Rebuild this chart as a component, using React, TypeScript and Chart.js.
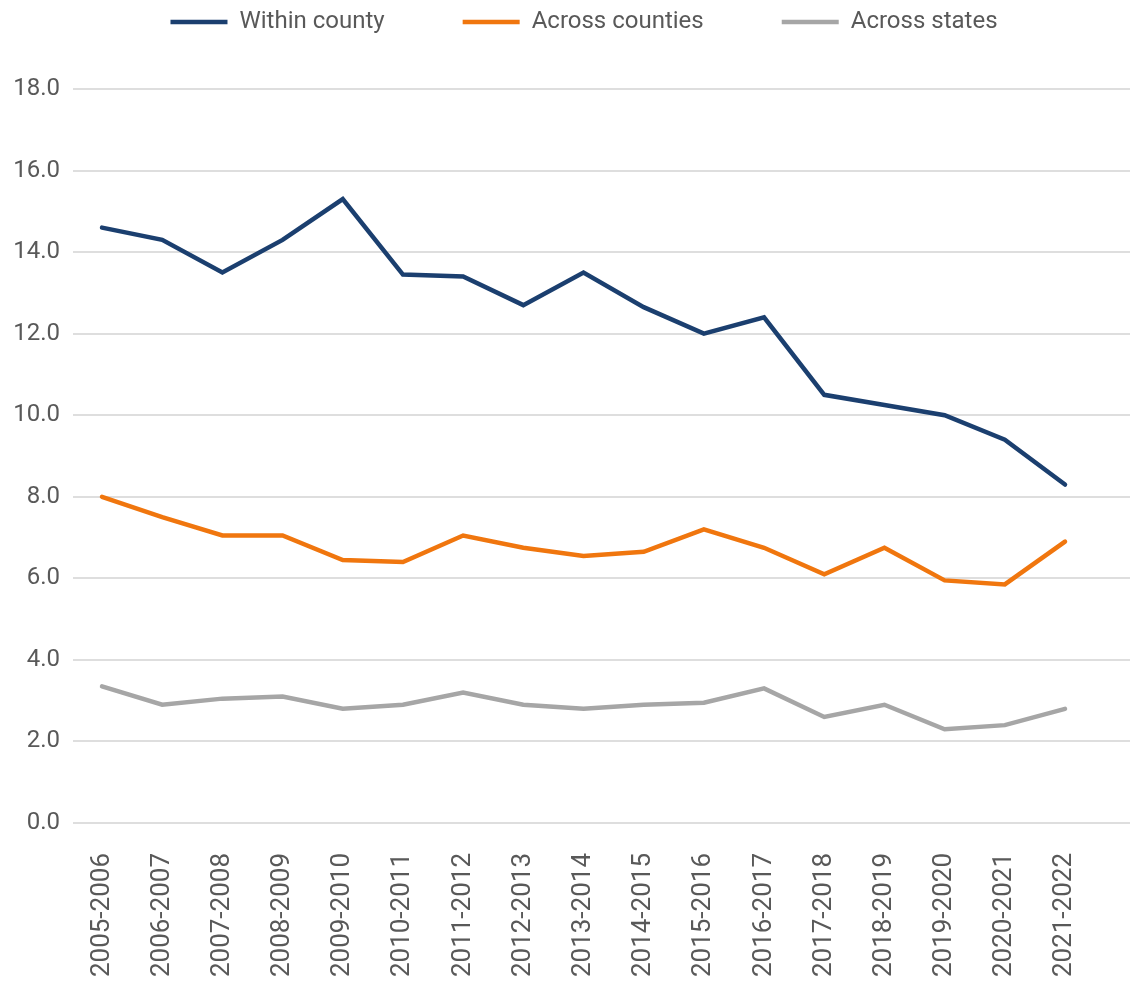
import React, { useEffect, useRef } from "react";
import { Chart, registerables } from "chart.js";

Chart.register(...registerables);

const periods = [
  "2005-2006", "2006-2007", "2007-2008", "2008-2009", "2009-2010", "2010-2011",
  "2011-2012", "2012-2013", "2013-2014", "2014-2015", "2015-2016", "2016-2017",
  "2017-2018", "2018-2019", "2019-2020", "2020-2021", "2021-2022",
];
const withinCounty = [14.6, 14.3, 13.5, 14.3, 15.3, 13.45, 13.4, 12.7, 13.5, 12.65, 12.0, 12.4, 10.5, 10.25, 10.0, 9.4, 8.3];
const acrossCounties = [8.0, 7.5, 7.05, 7.05, 6.45, 6.4, 7.05, 6.75, 6.55, 6.65, 7.2, 6.75, 6.1, 6.75, 5.95, 5.85, 6.9];
const acrossStates = [3.35, 2.9, 3.05, 3.1, 2.8, 2.9, 3.2, 2.9, 2.8, 2.9, 2.95, 3.3, 2.6, 2.9, 2.3, 2.4, 2.8];
const seriesNames = ["Within county", "Across counties", "Across states"];
const seriesColors = ["#1B3F6F", "#F0760E", "#A6A6A6"];
const yMin = 0;
const yMax = 18;
const yStep = 2;

const TEXT = "#595959";
const FONT = "Roboto";

export default function App() {
  const canvasRef = useRef<HTMLCanvasElement | null>(null);

  useEffect(() => {
    if (!canvasRef.current) return;
    const seriesValues = [withinCounty, acrossCounties, acrossStates];
    const chart = new Chart(canvasRef.current, {
      type: "line",
      data: {
        datasets: seriesValues.map((vals, k) => ({
          label: seriesNames[k],
          data: vals.map((v, i) => ({ x: i, y: v })),
          borderColor: seriesColors[k],
          backgroundColor: seriesColors[k],
          borderWidth: 4.5,
          pointRadius: 0,
          borderCapStyle: "round",
          borderJoinStyle: "miter",
          tension: 0,
        })),
      },
      options: {
        animation: false,
        responsive: true,
        maintainAspectRatio: false,
        layout: { padding: { top: -68, left: 0, right: -38, bottom: 0 } },
        plugins: {
          tooltip: { enabled: false },
          legend: {
            position: "top",
            labels: {
              usePointStyle: true,
              pointStyle: "line",
              pointStyleWidth: 57,
              padding: 78,
              color: TEXT,
              font: { family: FONT, size: 24 },
            },
          },
          subtitle: {
            display: true,
            text: "",
            weight: 500,
            font: { size: 10, lineHeight: 1.2 },
            padding: { top: 0, bottom: 33 },
          },
        },
        scales: {
          x: {
            type: "linear",
            min: -0.482,
            max: 17.08,
            grid: { display: false, drawTicks: false },
            border: { display: false },
            afterBuildTicks: (axis: any) => {
              axis.ticks = periods.map((_, i) => ({ value: i }));
            },
            afterFit: (axis: any) => {
              axis.height = 160;
            },
            ticks: {
              autoSkip: false,
              minRotation: 90,
              maxRotation: 90,
              padding: 30,
              color: TEXT,
              font: { family: FONT, size: 26 },
              callback: (v: any) => periods[Number(v)] ?? "",
            },
          },
          y: {
            min: yMin,
            max: yMax,
            grid: { color: "#DEDEDE", lineWidth: 2, drawTicks: false },
            border: { display: false },
            afterFit: (axis: any) => {
              axis.width = 73;
            },
            ticks: {
              stepSize: yStep,
              padding: 13,
              color: TEXT,
              font: { family: FONT, size: 24 },
              callback: (v: any) => Number(v).toFixed(1),
            },
          },
        },
      },
    });
    return () => chart.destroy();
  }, []);

  return (
    <div style={{ position: "absolute", left: 0, top: 0, width: 1130, height: 983, background: "#fff" }}>
      <canvas ref={canvasRef} />
    </div>
  );
}
